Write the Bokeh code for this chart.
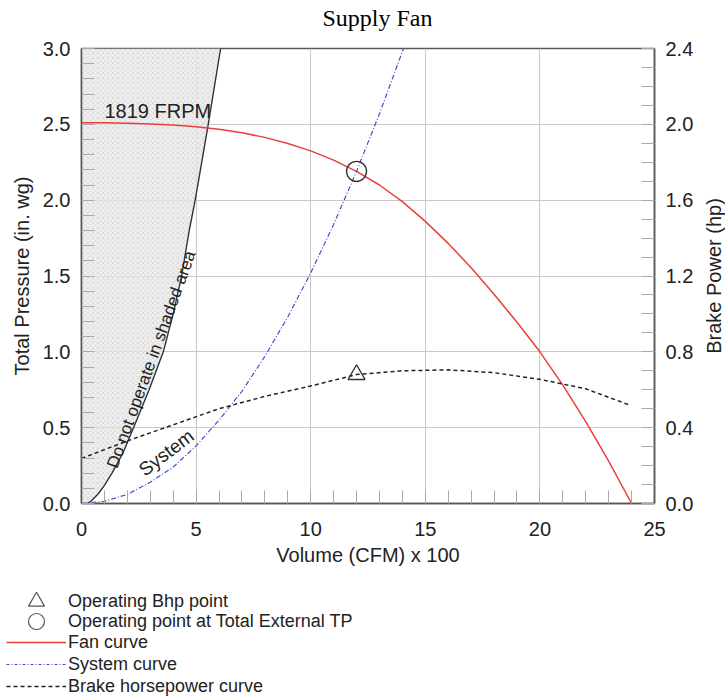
import math
from bokeh.plotting import figure
from bokeh.layouts import row
from bokeh.models import (Range1d, LinearAxis, FixedTicker, PrintfTickFormatter,
                          Legend, LegendItem, ColumnDataSource, Title)
from bokeh.embed import file_html
from bokeh.resources import INLINE
from bokeh.core.properties import value

# ---------------- data ----------------
fan_volume = [0, 1, 2, 3, 4, 5, 6, 7, 8, 9, 10, 11, 12, 13, 14, 15, 16, 17, 18, 19, 20, 21, 22, 23, 24]
fan_tp = [2.51, 2.51, 2.507, 2.502, 2.495, 2.484, 2.467, 2.444, 2.414, 2.374, 2.325, 2.264, 2.19,
          2.10, 1.99, 1.86, 1.715, 1.555, 1.38, 1.195, 1.00, 0.78, 0.54, 0.28, 0.00]

sys_volume = [0, 1, 2, 3, 4, 5, 6, 7, 8, 9, 10, 11, 12, 13, 14.05]
sys_tp = [0.0, 0.015, 0.06, 0.14, 0.24, 0.38, 0.55, 0.74, 0.97, 1.23, 1.52, 1.84, 2.19, 2.57, 3.0]

bhp_volume = [0, 2, 4, 6, 8, 10, 12, 14, 16, 18, 20, 22, 23.9]
bhp_hp = [0.238, 0.33, 0.415, 0.50, 0.565, 0.62, 0.68, 0.70, 0.705, 0.69, 0.655, 0.605, 0.52]

surge_volume = [0.25, 0.45, 0.74, 1.0, 1.33, 1.8, 2.27, 2.95, 3.57, 4.0, 4.37, 4.7, 4.96, 5.53, 6.07]
surge_tp = [0.0, 0.02, 0.066, 0.12, 0.2, 0.33, 0.5, 0.75, 1.0, 1.25, 1.5, 1.8, 2.0, 2.5, 3.0]

op_volume = [12.0]
op_tp = [2.19]
op_bhp = [0.68]

x_ticks = [0, 5, 10, 15, 20, 25]
x_minor = list(range(0, 26))
y_ticks = [0.0, 0.5, 1.0, 1.5, 2.0, 2.5, 3.0]
y_minor = [i / 10 for i in range(0, 31)]
y2_ticks = [0.0, 0.4, 0.8, 1.2, 1.6, 2.0, 2.4]
y2_minor = [i / 10 for i in range(0, 25)]

note_text = ["1819 FRPM", "Do not operate in shaded area", "System"]
note_x = [1.0, 3.05, 3.70]
note_y = [2.59, 0.95, 0.335]
note_angle = [0.0, math.radians(70), math.radians(37)]
note_align = ["left", "center", "center"]
note_size = ["20px", "17px", "19px"]

legend_labels = ["Operating Bhp point", "Operating point at Total External TP",
                 "Fan curve", "System curve", "Brake horsepower curve"]

FONT = "Liberation Sans"
FAN_COLOR = "#e8413c"
SYS_COLOR = "#4a4ad0"
BHP_COLOR = "#222222"
MARK_COLOR = "#333333"

# ---------------- main chart ----------------
p = figure(width=696, height=580, x_range=Range1d(0, 25), y_range=Range1d(0, 3),
           output_backend="svg", toolbar_location=None,
           min_border_left=81, min_border_right=40, min_border_top=48, min_border_bottom=77)
p.title = None
p.extra_y_ranges = {"bhp": Range1d(0, 2.4)}

# spacer next to the frame, then the real title above it
p.add_layout(Title(text=".", text_color="white", text_font_size="12px", standoff=7), "above")
p.add_layout(Title(text="Supply Fan", text_font="Liberation Serif", text_font_size="24px",
                   text_font_style="normal", text_color="#000000", align="left",
                   offset=241, standoff=0), "above")

p.outline_line_color = "#555555"
p.outline_line_width = 1.5
p.background_fill_color = "white"
p.border_fill_color = "white"

p.xaxis.ticker = FixedTicker(ticks=x_ticks, minor_ticks=x_minor)
p.yaxis.ticker = FixedTicker(ticks=y_ticks, minor_ticks=y_minor)
p.xaxis.formatter = PrintfTickFormatter(format="%d")
p.yaxis.formatter = PrintfTickFormatter(format="%.1f")
p.xaxis.axis_label = "Volume (CFM) x 100"
p.yaxis.axis_label = "Total Pressure (in. wg)"

right = LinearAxis(y_range_name="bhp",
                   ticker=FixedTicker(ticks=y2_ticks, minor_ticks=y2_minor),
                   formatter=PrintfTickFormatter(format="%.1f"))
p.add_layout(right, "right")

for ax in [p.xaxis[0], p.yaxis[0], right]:
    ax.axis_line_color = "#555555"
    ax.axis_line_width = 1.5
    ax.major_tick_in = 0
    ax.major_tick_out = 0
    ax.minor_tick_in = 13
    ax.minor_tick_out = 0
    ax.minor_tick_line_color = "#aaaaaa"
    ax.major_label_text_font = FONT
    ax.major_label_text_font_size = "20px"
    ax.major_label_text_color = "#222222"
    ax.axis_label_text_font = FONT
    ax.axis_label_text_font_size = "20px"
    ax.axis_label_text_font_style = "normal"
    ax.axis_label_text_color = "#222222"
p.xaxis.major_label_standoff = 18
p.xaxis.axis_label_standoff = 5
p.yaxis.major_label_standoff = 11
p.yaxis.axis_label_standoff = 7
right.major_label_standoff = 11

p.xgrid.grid_line_color = "#c8c8c8"
p.ygrid.grid_line_color = "#c8c8c8"
p.xgrid.ticker = FixedTicker(ticks=x_ticks)
p.ygrid.ticker = FixedTicker(ticks=y_ticks)

# shaded "do not operate" area
shade_x = [0.0] + surge_volume + [0.0]
shade_y = [0.0] + surge_tp + [3.0]
p.patch(shade_x, shade_y, fill_color="#ebebeb", fill_alpha=0.75, line_color=None,
        hatch_pattern="x", hatch_scale=5, hatch_color="#c6c6c6", hatch_weight=0.6, hatch_alpha=0.8)
p.line(surge_volume, surge_tp, line_color="#333333", line_width=1.4)

p.line(fan_volume, fan_tp, line_color=FAN_COLOR, line_width=1.5)
p.line(sys_volume, sys_tp, line_color=SYS_COLOR, line_width=1.2, line_dash="5 2 1 2")
p.line(bhp_volume, bhp_hp, y_range_name="bhp", line_color=BHP_COLOR, line_width=1.5, line_dash="4 3")
p.scatter(op_volume, op_bhp, y_range_name="bhp", marker="triangle", size=17,
          fill_color=None, line_color=MARK_COLOR, line_width=1.4)
p.scatter(op_volume, op_tp, marker="circle", size=20,
          fill_color=None, line_color=MARK_COLOR, line_width=1.4)

notes = ColumnDataSource(dict(x=note_x, y=note_y, text=note_text, angle=note_angle,
                              align=note_align, size=note_size))
p.text(x="x", y="y", text="text", angle="angle", source=notes, text_align="align",
       text_baseline="middle", text_font=value(FONT), text_font_size="size", text_color="#222222")

# ---------------- right-hand axis title (reads bottom-to-top like the reference) ----------------
side = figure(width=29, height=580, x_range=Range1d(0, 1), y_range=Range1d(0, 2.4),
              output_backend="svg", toolbar_location=None, x_axis_type=None, y_axis_type=None,
              min_border_left=28, min_border_right=0, min_border_top=48, min_border_bottom=77,
              outline_line_color=None)
side.title = None
side.grid.visible = False
side.add_layout(Title(text="Brake Power (hp)", text_font=FONT, text_font_size="20px",
                      text_font_style="normal", text_color="#222222", align="center",
                      standoff=0), "left")

# ---------------- legend strip (same series, keyed in a legend) ----------------
lg = figure(width=725, height=120, x_range=Range1d(100, 101), y_range=Range1d(100, 101),
            output_backend="svg", toolbar_location=None, x_axis_type=None, y_axis_type=None,
            min_border=0, outline_line_color=None)
lg.title = None
lg.grid.visible = False
l_tri = lg.scatter(op_volume, op_bhp, marker="triangle", fill_color=None, line_color="#555555", line_width=1.2)
l_circ = lg.scatter(op_volume, op_tp, marker="circle", fill_color=None, line_color="#555555", line_width=1.2)
l_fan = lg.line(fan_volume, fan_tp, line_color=FAN_COLOR, line_width=1.5)
l_sys = lg.line(sys_volume, sys_tp, line_color=SYS_COLOR, line_width=1.2, line_dash="3 2 1 2")
l_bhp = lg.line(bhp_volume, bhp_hp, line_color=BHP_COLOR, line_width=1.3, line_dash="4 3")

common = dict(glyph_width=60, padding=0, margin=0, spacing=0, label_standoff=2,
              label_text_font=FONT, label_text_font_size="18px", label_text_color="#222222",
              border_line_alpha=0, background_fill_alpha=0)
# location = (left, bottom) of each legend, measured from the strip's bottom-left corner
leg_a = Legend(items=[LegendItem(label=legend_labels[0], renderers=[l_tri])],
               location=(6, 79), glyph_height=40, label_height=40, **common)
leg_b = Legend(items=[LegendItem(label=legend_labels[1], renderers=[l_circ])],
               location=(6, 59), glyph_height=40, label_height=40, **common)
leg_c = Legend(items=[LegendItem(label=legend_labels[2], renderers=[l_fan]),
                      LegendItem(label=legend_labels[3], renderers=[l_sys]),
                      LegendItem(label=legend_labels[4], renderers=[l_bhp])],
               location=(6, 3), glyph_height=22, label_height=22, **common)
for leg in (leg_a, leg_b, leg_c):
    lg.add_layout(leg, "center")

open("out.html", "w").write(file_html([row(p, side), lg], INLINE))
